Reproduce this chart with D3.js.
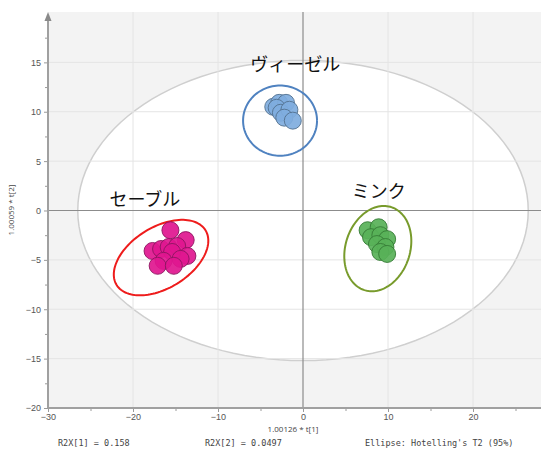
<!DOCTYPE html>
<html>
<head>
<meta charset="utf-8">
<script src="https://cdn.jsdelivr.net/npm/d3@7"></script>
<style>
  body { margin: 0; background: #fff; }
  svg { display: block; }
</style>
</head>
<body>
<div id="chart"></div>
<script>
// score values t[1], t[2]
const weasel = [[-3.5, 10.5], [-2.8, 10.9], [-2.0, 10.9], [-3.1, 10.4], [-2.6, 9.9], [-1.6, 10.2], [-2.2, 9.4], [-1.2, 9.1]];
const sable = [[-15.6, -2.0], [-13.8, -3.0], [-17.7, -4.1], [-16.7, -3.9], [-15.8, -3.7], [-14.8, -3.6], [-13.6, -4.6], [-15.4, -4.2], [-14.4, -4.9], [-16.4, -5.1], [-17.1, -5.6], [-15.2, -5.6]];
const mink = [[7.6, -2.0], [8.9, -1.7], [8.0, -2.7], [9.1, -2.5], [9.9, -2.9], [8.7, -3.4], [9.7, -3.7], [9.1, -4.2], [9.9, -4.4]];

const groupNames = ["ヴィーゼル", "セーブル", "ミンク"];
const groupColors = ["#7fadde", "#e0168f", "#58b158"];
const groupStrokes = ["#52708f", "#8c1560", "#357a35"];
const ringColors = ["#4f82c0", "#ee1c1c", "#789b2c"];
// cx, cy, rx, ry, angle (data units / degrees)
const rings = [[-2.7, 9.1, 4.35, 3.55, 0], [-16.7, -4.77, 5.94, 3.2, 24.7], [8.8, -3.86, 4.53, 3.7, 58.5]];
const labelPos = [[-0.9, 14.1], [-18.6, 0.5], [8.9, 1.3]];

const hotelling = [0, 0, 26.5, 15.2];
const xTicks = [-30, -20, -10, 0, 10, 20];
const yTicks = [-20, -15, -10, -5, 0, 5, 10, 15];
const footer = ["R2X[1] = 0.158", "R2X[2] = 0.0497", "Ellipse: Hotelling's T2 (95%)"];

const W = 552, H = 450;
const margin = { top: 12, right: 11, bottom: 42, left: 48 };
const width = W - margin.left - margin.right;
const height = H - margin.top - margin.bottom;

const svg = d3.select("#chart").append("svg")
    .attr("width", W)
    .attr("height", H)
    .style("font-family", "'Open Sans', 'DejaVu Sans', sans-serif");

const g = svg.append("g").attr("transform", `translate(${margin.left},${margin.top})`);

const x = d3.scaleLinear().domain([-30, 28]).range([0, width]);
const y = d3.scaleLinear().domain([-20, 20.1]).range([height, 0]);

// plot background
g.append("rect").attr("width", width).attr("height", height).attr("fill", "#f3f3f3");

// Hotelling T2 ellipse
function ellipsePts(cx, cy, rx, ry, deg) {
    const a = deg * Math.PI / 180;
    return d3.range(0, 361, 3).map(t => {
        const r = t * Math.PI / 180;
        const ex = rx * Math.cos(r), ey = ry * Math.sin(r);
        return [cx + ex * Math.cos(a) - ey * Math.sin(a), cy + ex * Math.sin(a) + ey * Math.cos(a)];
    });
}
const line = d3.line().x(d => x(d[0])).y(d => y(d[1]));

g.append("path")
    .attr("d", line(ellipsePts(hotelling[0], hotelling[1], hotelling[2], hotelling[3], 0)))
    .attr("fill", "#fff")
    .attr("stroke", "#cfcfcf")
    .attr("stroke-width", 1.5);

// grid
g.selectAll(".vgrid").data(xTicks.filter(d => d !== 0 && d !== -30)).enter().append("line")
    .attr("x1", d => x(d)).attr("x2", d => x(d))
    .attr("y1", 0).attr("y2", height)
    .attr("stroke", "#e4e4e4").attr("stroke-width", 1);
g.selectAll(".hgrid").data(yTicks.filter(d => d !== 0 && d !== -20)).enter().append("line")
    .attr("x1", 0).attr("x2", width)
    .attr("y1", d => y(d)).attr("y2", d => y(d))
    .attr("stroke", "#e4e4e4").attr("stroke-width", 1);

// zero lines
g.append("line").attr("x1", x(0)).attr("x2", x(0)).attr("y1", 0).attr("y2", height)
    .attr("stroke", "#8c8c8c").attr("stroke-width", 1.2);
g.append("line").attr("x1", 0).attr("x2", width).attr("y1", y(0)).attr("y2", y(0))
    .attr("stroke", "#8c8c8c").attr("stroke-width", 1.2);

// axes
const xAxis = g.append("g").attr("transform", `translate(0,${height})`)
    .call(d3.axisBottom(x).tickValues(xTicks).tickSize(4).tickPadding(2));
const xMinor = g.append("g").attr("transform", `translate(0,${height})`)
    .call(d3.axisBottom(x).tickValues(d3.range(-25, 28, 10)).tickSize(3).tickFormat(""));
const yAxis = g.append("g")
    .call(d3.axisLeft(y).tickValues(yTicks).tickSize(4).tickPadding(3));
const yMinor = g.append("g")
    .call(d3.axisLeft(y).tickValues(d3.range(-17.5, 20, 5)).tickSize(3).tickFormat(""));

[xAxis, xMinor, yAxis, yMinor].forEach(a => {
    a.select(".domain").remove();
    a.selectAll(".tick line").attr("stroke", "#9a9a9a");
    a.selectAll("text").attr("fill", "#555").style("font-size", "9px");
});

g.append("line").attr("x1", 0).attr("x2", width).attr("y1", height).attr("y2", height)
    .attr("stroke", "#a0a0a0").attr("stroke-width", 2);
g.append("line").attr("x1", 0).attr("x2", 0).attr("y1", height).attr("y2", 8)
    .attr("stroke", "#a0a0a0").attr("stroke-width", 2);
g.append("path").attr("d", "M-3.5,9 L0,0 L3.5,9 Z").attr("fill", "#8a8a8a");

// group confidence rings
g.selectAll(".ring").data(rings).enter().append("path")
    .attr("d", d => line(ellipsePts(d[0], d[1], d[2], d[3], d[4])))
    .attr("fill", "none")
    .attr("stroke", (d, i) => ringColors[i])
    .attr("stroke-width", 2);

// points
[weasel, sable, mink].forEach((pts, i) => {
    g.selectAll(null).data(pts).enter().append("circle")
        .attr("cx", d => x(d[0]))
        .attr("cy", d => y(d[1]))
        .attr("r", 8.5)
        .attr("fill", groupColors[i])
        .attr("fill-opacity", 0.92)
        .attr("stroke", groupStrokes[i])
        .attr("stroke-width", 0.9);
});

// group labels
g.selectAll(".glabel").data(groupNames).enter().append("text")
    .attr("x", (d, i) => x(labelPos[i][0]))
    .attr("y", (d, i) => y(labelPos[i][1]))
    .attr("text-anchor", "middle")
    .style("font-family", "'Noto Sans CJK JP', sans-serif")
    .style("font-size", "18px")
    .attr("fill", "#111")
    .text(d => d);

// axis titles
svg.append("text")
    .attr("x", 293).attr("y", 432)
    .attr("text-anchor", "middle")
    .style("font-size", "8px").attr("fill", "#444")
    .text("1.00126 * t[1]");

svg.append("text")
    .attr("transform", "translate(14,210) rotate(-90)")
    .attr("text-anchor", "middle")
    .style("font-size", "8px").attr("fill", "#444")
    .text("1.00059 * t[2]");

// footer
const footX = [58, 205, 365];
footer.forEach((t, i) => {
    svg.append("text")
        .attr("x", footX[i]).attr("y", 446)
        .style("font-family", "'DejaVu Sans Mono', monospace")
        .style("font-size", "8.5px").attr("fill", "#444")
        .text(t);
});
</script>
</body>
</html>
